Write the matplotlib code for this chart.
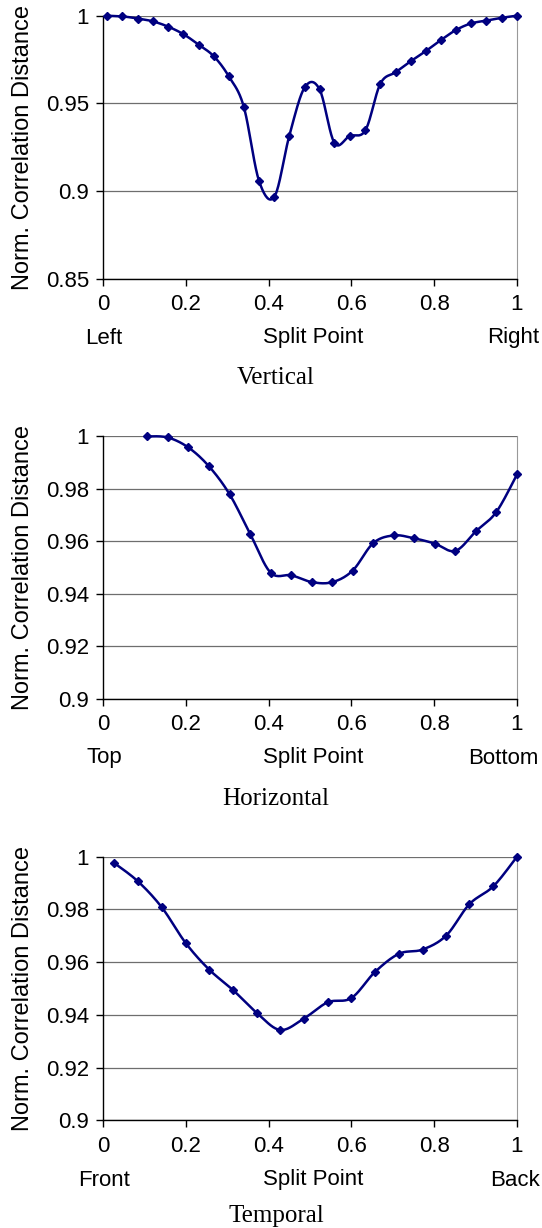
import numpy as np
import matplotlib.pyplot as plt

# split point positions and normalised correlation distances
vert_x = [0.010, 0.047, 0.084, 0.120, 0.157, 0.194, 0.231, 0.268, 0.304, 0.340,
          0.377, 0.414, 0.450, 0.487, 0.523, 0.559, 0.596, 0.634, 0.670, 0.707,
          0.743, 0.779, 0.816, 0.853, 0.889, 0.926, 0.963, 1.000]
vert_y = [1.000, 0.9996, 0.9984, 0.9968, 0.9938, 0.9895, 0.9835, 0.9768, 0.9654, 0.9482,
          0.9058, 0.8969, 0.9316, 0.9591, 0.9581, 0.9275, 0.9315, 0.9348, 0.9613, 0.9678,
          0.9740, 0.9797, 0.9861, 0.9919, 0.9956, 0.9972, 0.9988, 1.000]

horiz_x = [0.106, 0.156, 0.206, 0.256, 0.306, 0.356, 0.405, 0.455, 0.505, 0.554,
           0.603, 0.653, 0.703, 0.751, 0.801, 0.851, 0.901, 0.950, 1.000]
horiz_y = [1.000, 0.9996, 0.9958, 0.9886, 0.9779, 0.9627, 0.9481, 0.9471, 0.9445, 0.9445,
           0.9489, 0.9594, 0.9623, 0.9612, 0.9592, 0.9564, 0.9639, 0.9712, 0.9855]

temp_x = [0.027, 0.084, 0.142, 0.200, 0.257, 0.313, 0.372, 0.428, 0.485, 0.543,
          0.600, 0.657, 0.715, 0.772, 0.829, 0.885, 0.943, 1.000]
temp_y = [0.9976, 0.9907, 0.9808, 0.9672, 0.9571, 0.9496, 0.9407, 0.9343, 0.9386, 0.9448,
          0.9464, 0.9563, 0.9632, 0.9648, 0.9701, 0.9820, 0.9888, 1.000]

x_ticks = [0, 0.2, 0.4, 0.6, 0.8, 1]
x_tick_labels = ['0', '0.2', '0.4', '0.6', '0.8', '1']

W, H = 542, 1228
navy = '#000080'


def smooth(x, y, n=20):
    # catmull-rom through the points, like a spreadsheet "smoothed line"
    p = np.column_stack([x, y]).astype(float)
    p = np.vstack([p[0], p, p[-1]])
    t = np.linspace(0, 1, n)[:, None]
    out = []
    for i in range(1, len(p) - 2):
        p0, p1, p2, p3 = p[i - 1], p[i], p[i + 1], p[i + 2]
        c1 = p1 + (p2 - p0) / 6
        c2 = p2 - (p3 - p1) / 6
        seg = ((1 - t) ** 3) * p1 + 3 * ((1 - t) ** 2) * t * c1 + 3 * (1 - t) * t ** 2 * c2 + t ** 3 * p2
        out.append(seg)
    out = np.vstack(out)
    return out[:, 0], out[:, 1]


def px_axes(top, bottom, left=103, right=517):
    return [left / W, 1 - bottom / H, (right - left) / W, (bottom - top) / H]


plt.rcParams['font.family'] = 'Liberation Sans'

fig = plt.figure(figsize=(W / 100, H / 100), dpi=100)

panels = [
    (vert_x, vert_y, 15.7, 279, (0.85, 1.0), [0.85, 0.9, 0.95, 1.0], ['0.85', '0.9', '0.95', '1'],
     ('Left', 'Right'), 'Vertical', 338, 384, 513),
    (horiz_x, horiz_y, 436.4, 699, (0.9, 1.0), [0.9, 0.92, 0.94, 0.96, 0.98, 1.0],
     ['0.9', '0.92', '0.94', '0.96', '0.98', '1'],
     ('Top', 'Bottom'), 'Horizontal', 758, 805, 503),
    (temp_x, temp_y, 856.7, 1120.4, (0.9, 1.0), [0.9, 0.92, 0.94, 0.96, 0.98, 1.0],
     ['0.9', '0.92', '0.94', '0.96', '0.98', '1'],
     ('Front', 'Back'), 'Temporal', 1180, 1222, 515),
]

for (xs, ys, top, bottom, ylim, yt, ytl, ends, title, lab_y, title_base, right_cx) in panels:
    ax = fig.add_axes(px_axes(top, bottom))
    sx, sy = smooth(xs, ys)
    ax.plot(sx, sy, color=navy, lw=1.8, zorder=3, clip_on=False)
    ax.plot(xs, ys, ls='none', marker='D', ms=4.5, color=navy, zorder=4, clip_on=False)
    ax.set_xlim(0, 1)
    ax.set_ylim(*ylim)
    ax.set_xticks(x_ticks)
    ax.set_xticklabels(x_tick_labels)
    ax.set_yticks(yt)
    ax.set_yticklabels(ytl)
    ax.tick_params(labelsize=16, length=5, width=1, direction='out', color='black')
    ax.tick_params(axis='x', pad=6)
    ax.tick_params(axis='y', pad=5)
    ax.grid(axis='y', color='#6e6e6e', lw=0.9)
    ax.set_axisbelow(True)
    ax.spines['top'].set_visible(False)
    ax.spines['right'].set_color('#999999')
    ax.spines['left'].set_linewidth(1)
    ax.spines['bottom'].set_linewidth(1)
    ax.set_ylabel('Norm. Correlation Distance', fontsize=17)
    ax.yaxis.set_label_coords(-0.167, 0.5)

    fig.text(104 / W, 1 - lab_y / H, ends[0], ha='center', va='center', fontsize=16)
    fig.text(313 / W, 1 - lab_y / H, 'Split Point', ha='center', va='center', fontsize=16)
    fig.text(right_cx / W, 1 - lab_y / H, ends[1], ha='center', va='center', fontsize=16)
    fig.text(276 / W, 1 - title_base / H, title, ha='center', va='baseline', fontsize=18,
             family='Liberation Serif')

fig.savefig('out.png', dpi=100)
